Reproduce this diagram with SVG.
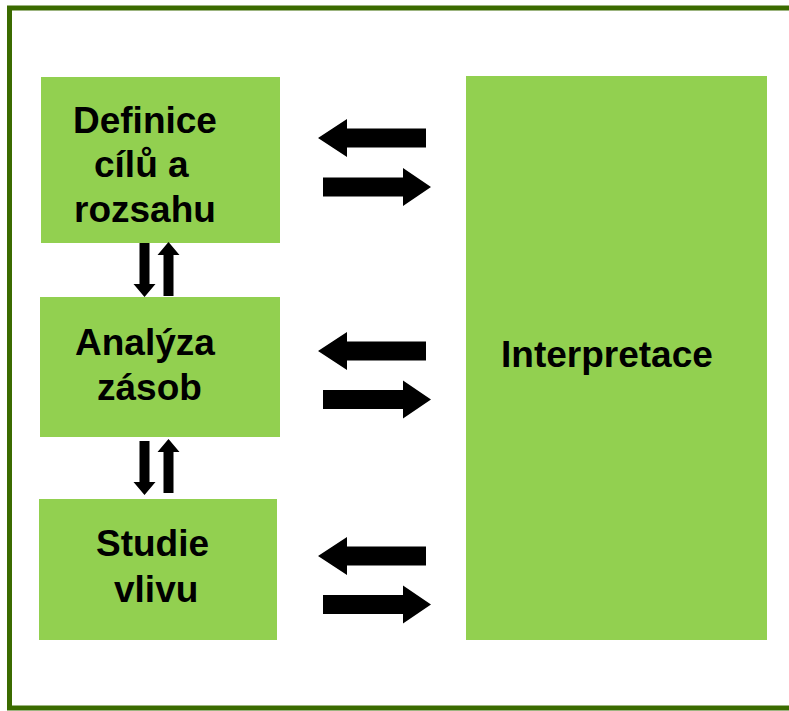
<svg xmlns="http://www.w3.org/2000/svg" width="789" height="711" viewBox="0 0 789 711">
  <style>
    .box { fill: #92d050; }
    .label { font-family: "Liberation Sans", Arial, sans-serif; font-weight: bold; font-size: 37px; fill: #000; }
    .arrow { fill: #000; }
  </style>
  <defs>
    <!-- horizontal block arrow pointing right, origin at shaft start / centre line -->
    <polygon id="arrR" class="arrow" points="0,-9.5 80,-9.5 80,-19 108,0 80,19 80,9.5 0,9.5"/>
    <!-- horizontal block arrow pointing left, origin at tip -->
    <polygon id="arrL" class="arrow" points="0,0 29,-19 29,-9.5 108,-9.5 108,9.5 29,9.5 29,19"/>
    <!-- vertical block arrow pointing down, origin at shaft top centre -->
    <polygon id="arrD" class="arrow" points="-5,0 5,0 5,41 11,41 0,54 -11,41 -5,41"/>
    <!-- vertical block arrow pointing up, origin at tip -->
    <polygon id="arrU" class="arrow" points="0,0 11,13 5,13 5,54 -5,54 -5,13 -11,13"/>
  </defs>

  <rect x="0" y="0" width="789" height="711" fill="#fff"/>
  <!-- outer frame -->
  <rect x="9.5" y="8" width="800" height="700" fill="none" stroke="#3b6b00" stroke-width="5"/>

  <g id="node-definice">
    <rect class="box" x="41" y="77" width="239" height="166"/>
    <text class="label" x="73" y="133">Definice</text>
    <text class="label" x="94" y="177">cílů a</text>
    <text class="label" x="74" y="222">rozsahu</text>
  </g>

  <g id="node-analyza">
    <rect class="box" x="40" y="297" width="240" height="140"/>
    <text class="label" x="75" y="355">Analýza</text>
    <text class="label" x="97" y="400">zásob</text>
  </g>

  <g id="node-studie">
    <rect class="box" x="39" y="499" width="238" height="141"/>
    <text class="label" x="96" y="556">Studie</text>
    <text class="label" x="114" y="602">vlivu</text>
  </g>

  <g id="node-interpretace">
    <rect class="box" x="466" y="76" width="301" height="564"/>
    <text class="label" x="501" y="367">Interpretace</text>
  </g>

  <g id="connectors">
    <!-- vertical pairs between the left boxes -->
    <use href="#arrD" x="144.5" y="243"/>
    <use href="#arrU" x="168.5" y="242"/>
    <use href="#arrD" x="144.5" y="441"/>
    <use href="#arrU" x="168.5" y="439"/>

    <!-- horizontal pairs towards Interpretace -->
    <use href="#arrL" x="318" y="138"/>
    <use href="#arrR" x="323" y="187"/>
    <use href="#arrL" x="318" y="351"/>
    <use href="#arrR" x="323" y="399.5"/>
    <use href="#arrL" x="318" y="556"/>
    <use href="#arrR" x="323" y="604.5"/>
  </g>
</svg>
